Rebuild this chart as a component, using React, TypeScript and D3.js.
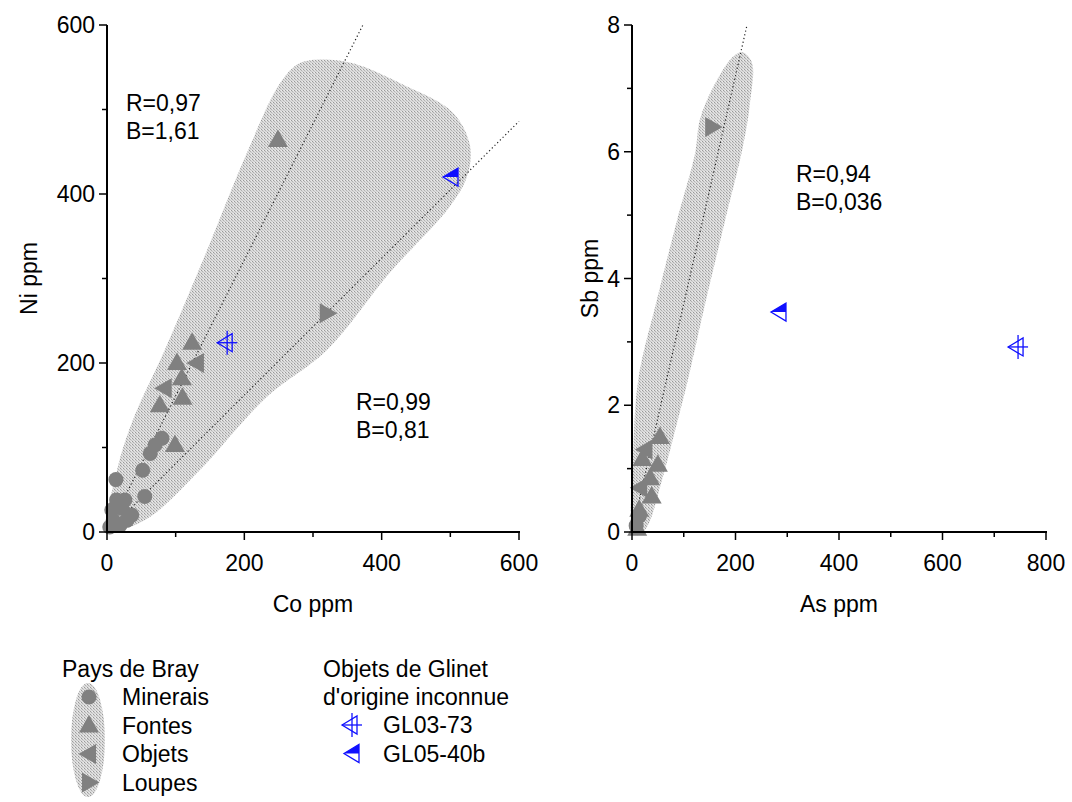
import React from "react";
import * as d3 from "d3";

// ---------- data ----------
// Left panel: Co (x) vs Ni (y)
const mineraisCo = [80, 70, 63, 52, 13, 55, 14, 26, 7, 36, 9, 29, 19, 4, 22];
const mineraisNi = [111, 103, 93, 73, 62, 42, 38, 38, 26, 20, 14, 14, 8, 6, 28];
const fontesCo = [249, 124, 102, 109, 110, 77, 99];
const fontesNi = [464, 224, 200, 182, 159, 150, 103];
const objetsCo = [131, 84];
const objetsNi = [200, 170];
const loupesCo = [320];
const loupesNi = [259];
const gl0373Co = [175];
const gl0373Ni = [224];
const gl0540Co = [501];
const gl0540Ni = [420];

// Right panel: As (x) vs Sb (y)
const mineraisAs = [8, 14];
const mineraisSb = [0.1, 0.25];
const fontesAs = [54, 50, 35, 38, 20, 14, 10];
const fontesSb = [1.5, 1.06, 0.85, 0.56, 1.15, 0.35, 0.05];
const objetsAs = [26, 16];
const objetsSb = [1.3, 0.7];
const loupesAs = [155];
const loupesSb = [6.39];
const gl0373As = [746];
const gl0373Sb = [2.92];
const gl0540As = [284];
const gl0540Sb = [3.47];

// Regression slopes
const slopesLeft = [1.61, 0.81];
const slopesRight = [0.036];

// Envelopes (data units)
const envLeftCo = [1.5, 14.6, 38, 84, 143, 204, 252, 281, 325, 361, 427, 504, 529, 524, 499, 412, 320, 233, 135, 63, 19];
const envLeftNi = [1.2, 73, 133, 215, 328, 449, 531, 555, 559, 554, 531, 496, 456, 420, 385, 307, 215, 160, 73, 18, 2];
const envRightAs = [2, 2, 12, 48, 87, 122, 131, 157, 195, 214, 232, 228, 214, 180, 143, 108, 87, 58, 29, 12];
const envRightSb = [-0.02, 1.09, 2.4, 3.66, 4.92, 5.98, 6.5, 7.02, 7.5, 7.57, 7.4, 6.77, 6.07, 4.92, 3.66, 2.4, 1.72, 0.82, 0.08, -0.05];

const xTicksLeft = [0, 200, 400, 600];
const yTicksLeft = [0, 200, 400, 600];
const xTicksRight = [0, 200, 400, 600, 800];
const yTicksRight = [0, 2, 4, 6, 8];

const GRAY = "#808080";
const BLUE = "#1010ff";
const FONT = "'Liberation Sans', Arial, sans-serif";
const FS = 23;

type Pt = [number, number];
const zip = (a: number[], b: number[]): Pt[] => a.map((v, i) => [v, b[i]]);

function Marker({ kind, x, y }: { kind: string; x: number; y: number }) {
  const t = `translate(${x},${y})`;
  if (kind === "circle") return <circle cx={x} cy={y} r={7.5} fill={GRAY} />;
  if (kind === "up") return <path transform={t} d="M0,-10.5 L10,7 L-10,7 Z" fill={GRAY} />;
  if (kind === "left") return <path transform={t} d="M-10.5,0 L7,-10 L7,10 Z" fill={GRAY} />;
  if (kind === "right") return <path transform={t} d="M10.5,0 L-7,-10 L-7,10 Z" fill={GRAY} />;
  if (kind === "gl73")
    return (
      <g transform={t} stroke={BLUE} strokeWidth={1.3} fill="none">
        <path d="M-10,0 L5,-9 L5,9 Z" />
        <line x1={-10} y1={0} x2={10} y2={0} />
        <line x1={0} y1={-12} x2={0} y2={12} />
      </g>
    );
  if (kind === "gl40")
    return (
      <g transform={t}>
        <path d="M-8,0 L7,-9 L7,0 Z" fill={BLUE} />
        <path d="M-8,0 L7,-9 L7,9 Z" fill="none" stroke={BLUE} strokeWidth={1.3} />
      </g>
    );
  return null;
}

function Panel(props: {
  x0: number; x1: number; y0: number; y1: number;
  xDom: [number, number]; yDom: [number, number];
  xTicks: number[]; yTicks: number[]; xMinor: number; yMinor: number;
  xLabel: string; yLabel: string; yLabelX: number;
  env: Pt[]; slopes: number[];
  series: { kind: string; pts: Pt[] }[];
  notes: { x: number; y: number; lines: string[] }[];
}) {
  const xs = d3.scaleLinear().domain(props.xDom).range([props.x0, props.x1]);
  const ys = d3.scaleLinear().domain(props.yDom).range([props.y0, props.y1]);
  const envPath = d3
    .line<Pt>()
    .x((d) => xs(d[0]))
    .y((d) => ys(d[1]))
    .curve(d3.curveCatmullRomClosed.alpha(0.5))(props.env) as string;
  const xMin = d3.range(props.xDom[0], props.xDom[1] + 1e-9, props.xMinor);
  const yMin = d3.range(props.yDom[0], props.yDom[1] + 1e-9, props.yMinor);
  const fmt = (v: number) => String(v);
  return (
    <g>
      <path d={envPath} fill="url(#stip)" />
      {props.slopes.map((b, i) => {
        const xEnd = Math.min(props.xDom[1], props.yDom[1] / b);
        return (
          <line key={i} x1={xs(0)} y1={ys(0)} x2={xs(xEnd)} y2={ys(xEnd * b)}
            stroke="#222" strokeWidth={1.2} strokeDasharray="1.2,2.6" />
        );
      })}
      {props.series.map((s, i) =>
        s.pts.map((p, j) => <Marker key={i + "-" + j} kind={s.kind} x={xs(p[0])} y={ys(p[1])} />)
      )}
      {/* axes */}
      <line x1={props.x0} y1={props.y0} x2={props.x1 + 1} y2={props.y0} stroke="#000" strokeWidth={2} />
      <line x1={props.x0} y1={props.y0 + 1} x2={props.x0} y2={props.y1} stroke="#000" strokeWidth={2} />
      {xMin.map((v, i) => (
        <line key={"xm" + i} x1={xs(v)} x2={xs(v)} y1={props.y0} y2={props.y0 + (props.xTicks.includes(+v.toFixed(6)) ? 8 : 5)} stroke="#000" strokeWidth={1.5} />
      ))}
      {yMin.map((v, i) => (
        <line key={"ym" + i} y1={ys(v)} y2={ys(v)} x1={props.x0} x2={props.x0 - (props.yTicks.includes(+v.toFixed(6)) ? 8 : 5)} stroke="#000" strokeWidth={1.5} />
      ))}
      {props.xTicks.map((v) => (
        <text key={"xt" + v} x={xs(v)} y={props.y0 + 39} textAnchor="middle" fontSize={FS} fontFamily={FONT}>{fmt(v)}</text>
      ))}
      {props.yTicks.map((v) => (
        <text key={"yt" + v} x={props.x0 - 12} y={ys(v) + 8} textAnchor="end" fontSize={FS} fontFamily={FONT}>{fmt(v)}</text>
      ))}
      <text x={(props.x0 + props.x1) / 2} y={props.y0 + 80} textAnchor="middle" fontSize={FS} fontFamily={FONT}>{props.xLabel}</text>
      <text transform={`translate(${props.yLabelX},${(props.y0 + props.y1) / 2}) rotate(-90)`} textAnchor="middle" fontSize={FS} fontFamily={FONT}>{props.yLabel}</text>
      {props.notes.map((n, i) => (
        <text key={"n" + i} x={n.x} y={n.y} fontSize={FS} fontFamily={FONT}>
          {n.lines.map((l, k) => (
            <tspan key={k} x={n.x} dy={k === 0 ? 0 : 28}>{l}</tspan>
          ))}
        </text>
      ))}
    </g>
  );
}

export default function App() {
  const legendLeft = [
    { kind: "circle", label: "Minerais" },
    { kind: "up", label: "Fontes" },
    { kind: "left", label: "Objets" },
    { kind: "right", label: "Loupes" },
  ];
  const legendRight = [
    { kind: "gl73", label: "GL03-73" },
    { kind: "gl40", label: "GL05-40b" },
  ];
  return (
    <svg width={1072} height={802} style={{ position: "absolute", left: 0, top: 0, background: "#fff" }}>
      <defs>
        <pattern id="stip" width={3} height={3} patternUnits="userSpaceOnUse">
          <rect width={3} height={3} fill="#dcdcdc" />
          <rect x={0} y={0} width={1} height={1} fill="#9a9a9a" />
          <rect x={1} y={1} width={1} height={1} fill="#b0b0b0" />
          <rect x={2} y={2} width={1} height={1} fill="#c4c4c4" />
          <rect x={2} y={0} width={1} height={1} fill="#ececec" />
        </pattern>
      </defs>
      <Panel
        x0={107} x1={519} y0={532} y1={25}
        xDom={[0, 600]} yDom={[0, 600]}
        xTicks={xTicksLeft} yTicks={yTicksLeft} xMinor={100} yMinor={100}
        xLabel="Co ppm" yLabel="Ni ppm" yLabelX={37}
        env={zip(envLeftCo, envLeftNi)} slopes={slopesLeft}
        series={[
          { kind: "circle", pts: zip(mineraisCo, mineraisNi) },
          { kind: "up", pts: zip(fontesCo, fontesNi) },
          { kind: "left", pts: zip(objetsCo, objetsNi) },
          { kind: "right", pts: zip(loupesCo, loupesNi) },
          { kind: "gl73", pts: zip(gl0373Co, gl0373Ni) },
          { kind: "gl40", pts: zip(gl0540Co, gl0540Ni) },
        ]}
        notes={[
          { x: 126, y: 111, lines: ["R=0,97", "B=1,61"] },
          { x: 356, y: 410, lines: ["R=0,99", "B=0,81"] },
        ]}
      />
      <Panel
        x0={632} x1={1046} y0={532} y1={25}
        xDom={[0, 800]} yDom={[0, 8]}
        xTicks={xTicksRight} yTicks={yTicksRight} xMinor={100} yMinor={1}
        xLabel="As ppm" yLabel="Sb ppm" yLabelX={598}
        env={zip(envRightAs, envRightSb)} slopes={slopesRight}
        series={[
          { kind: "circle", pts: zip(mineraisAs, mineraisSb) },
          { kind: "up", pts: zip(fontesAs, fontesSb) },
          { kind: "left", pts: zip(objetsAs, objetsSb) },
          { kind: "right", pts: zip(loupesAs, loupesSb) },
          { kind: "gl73", pts: zip(gl0373As, gl0373Sb) },
          { kind: "gl40", pts: zip(gl0540As, gl0540Sb) },
        ]}
        notes={[{ x: 796, y: 182, lines: ["R=0,94", "B=0,036"] }]}
      />
      {/* legend */}
      <ellipse cx={88} cy={740} rx={17} ry={57} fill="url(#stip)" />
      <text x={62} y={677} fontSize={FS} fontFamily={FONT}>Pays de Bray</text>
      {legendLeft.map((l, i) => (
        <g key={l.label}>
          <Marker kind={l.kind} x={89} y={697 + i * 28.5} />
          <text x={122} y={705 + i * 28.5} fontSize={FS} fontFamily={FONT}>{l.label}</text>
        </g>
      ))}
      <text x={323} y={677} fontSize={FS} fontFamily={FONT}>Objets de Glinet</text>
      <text x={323} y={705} fontSize={FS} fontFamily={FONT}>d'origine inconnue</text>
      {legendRight.map((l, i) => (
        <g key={l.label}>
          <Marker kind={l.kind} x={352} y={725 + i * 28.5} />
          <text x={383} y={733 + i * 28.5} fontSize={FS} fontFamily={FONT}>{l.label}</text>
        </g>
      ))}
    </svg>
  );
}
